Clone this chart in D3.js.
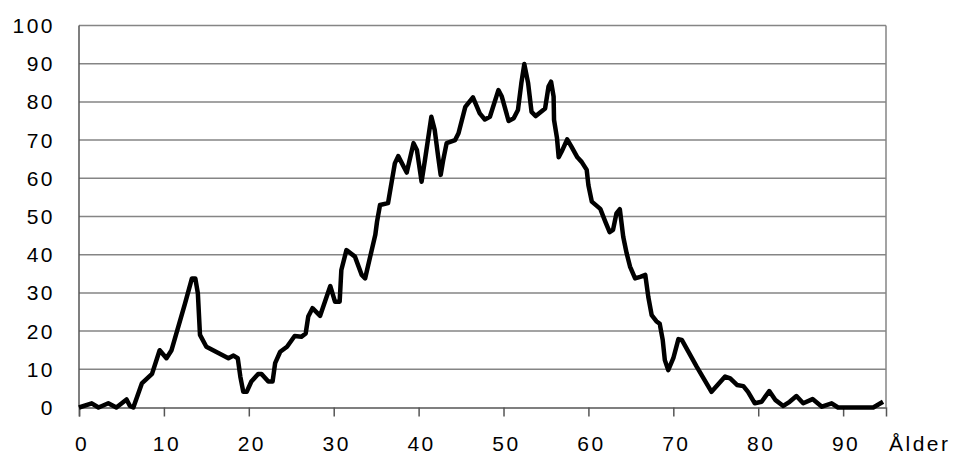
<!DOCTYPE html>
<html>
<head>
<meta charset="utf-8">
<script src="https://cdn.jsdelivr.net/npm/d3@7"></script>
<style>
  body { margin: 0; background: #fff; }
  svg text { font-family: "Liberation Sans", Arial, sans-serif; font-size: 21px; letter-spacing: 2.5px; fill: #000; }
</style>
</head>
<body>
<div class="chart"></div>
<script>
// ages (x) and counts (y)
var ages = [0, 1.5, 2.3, 3.45, 4.4, 5.6, 6.0, 6.4, 7.4, 8.6, 9.5, 10.3, 10.9, 12.5, 13.3, 13.7, 14.0, 14.25, 15.0,
  17.6, 18.2, 18.7, 19.0, 19.35, 19.75, 20.3, 21.1, 21.5, 22.3, 22.8, 23.1, 23.7, 24.5, 25.4, 26.2, 26.7, 27.0,
  27.5, 28.4, 29.6, 30.15, 30.7, 30.9, 31.5, 32.5, 33.3, 33.7, 34.3, 34.9, 35.1, 35.45, 36.4, 36.6, 37.2, 37.6,
  38.6, 39.4, 39.8, 40.35, 40.75, 41.5, 41.9, 42.3, 42.6, 42.9, 43.3, 44.3, 44.7, 45.5, 46.4, 47.2, 47.8, 48.4,
  49.4, 49.8, 50.6, 51.2, 51.7, 52.1, 52.45, 52.9, 53.3, 53.8, 54.9, 55.3, 55.6, 55.9, 55.95, 56.3, 56.5, 56.85,
  57.5, 58.0, 58.7, 59.2, 59.8, 60.0, 60.4, 61.4, 62.0, 62.5, 62.9, 63.3, 63.7, 64.1, 64.5, 64.9, 65.5, 66.1,
  66.7, 67.05, 67.45, 68.0, 68.4, 68.75, 69.0, 69.4, 70.0, 70.6, 71.0, 72.75, 74.5, 76.1, 76.7, 77.5, 78.25,
  78.8, 79.6, 80.4, 81.3, 82.0, 82.95, 83.7, 84.5, 85.3, 86.4, 87.5, 88.65, 89.4, 93.55, 94.7];
var counts = [0, 1.1, 0, 1.1, 0, 2.1, 0.4, 0, 6.3, 8.8, 15, 12.9, 15, 27.3, 33.8, 33.8, 29.9, 19, 15.9,
  12.9, 13.6, 12.9, 8.1, 4.1, 4.1, 6.8, 8.8, 8.8, 6.8, 6.8, 11.6, 14.6, 15.9, 18.7, 18.5, 19.4, 23.8,
  26, 24, 31.8, 27.7, 27.7, 36, 41.2, 39.5, 34.7, 33.8, 39.5, 45.2, 48.6, 53, 53.5, 56.1, 63.9, 65.8,
  61.5, 69.2, 67.4, 59.1, 64.8, 76.1, 72.6, 65.7, 60.9, 64.8, 69.2, 70, 71.8, 78.7, 81.2, 77, 75.4, 76.1,
  83.1, 81.4, 75, 75.7, 77.9, 84.9, 89.9, 84.9, 77.4, 76.3, 78.3, 84, 85.3, 81.4, 75.3, 70.5, 65.5, 67,
  70.2, 68.3, 65.5, 64.3, 62.2, 58.2, 53.9, 52, 48.6, 45.9, 46.5, 50.8, 51.9, 44.7, 40.4, 36.9, 33.8, 34.2,
  34.7, 29, 24.2, 22.6, 21.9, 17.7, 12.4, 9.8, 12.9, 17.9, 17.7, 10.7, 4.1, 8.1, 7.6, 5.9, 5.6,
  4.1, 1.1, 1.5, 4.3, 2, 0.4, 1.5, 3, 1.1, 2.2, 0.2, 1.1, 0, 0, 1.5];
var xTicks = [0, 10, 20, 30, 40, 50, 60, 70, 80, 90];
var yTicks = [0, 10, 20, 30, 40, 50, 60, 70, 80, 90, 100];
var xLabel = "Ålder";

var data = ages.map(function(a, i) { return { age: a, n: counts[i] }; });

var svg = d3.select(".chart").append("svg")
  .attr("width", 954)
  .attr("height", 454);

var x = d3.scaleLinear().domain([0, 95.05]).range([79, 886]);
var y = d3.scaleLinear().domain([0, 100]).range([407.5, 25.5]);

// gridlines
svg.append("g").selectAll("line")
  .data(yTicks.slice(1))
  .enter().append("line")
  .attr("x1", 79).attr("x2", 886)
  .attr("y1", function(d) { return y(d); })
  .attr("y2", function(d) { return y(d); })
  .attr("stroke", "#858585")
  .attr("stroke-width", 1.5);

// right border
svg.append("line")
  .attr("x1", 886).attr("x2", 886)
  .attr("y1", y(100)).attr("y2", y(0))
  .attr("stroke", "#858585").attr("stroke-width", 1.5);

// y axis
svg.append("line")
  .attr("x1", 79).attr("x2", 79)
  .attr("y1", y(100)).attr("y2", y(0))
  .attr("stroke", "#555").attr("stroke-width", 1.5);

svg.append("g").selectAll("text")
  .data(yTicks)
  .enter().append("text")
  .attr("x", 55)
  .attr("y", function(d) { return y(d); })
  .attr("dy", "0.36em")
  .attr("text-anchor", "end")
  .text(function(d) { return d; });

// x axis
var xAxis = d3.axisBottom(x).tickValues(xTicks).tickSize(9).tickFormat("");
var gx = svg.append("g")
  .attr("transform", "translate(0," + y(0) + ")")
  .call(xAxis);
gx.select(".domain").attr("stroke", "#555").attr("stroke-width", 1.5);
gx.selectAll(".tick line").attr("stroke", "#555").attr("stroke-width", 1.5);

svg.append("g").selectAll("text")
  .data(xTicks)
  .enter().append("text")
  .attr("x", function(d) { return x(d) + 3; })
  .attr("y", 451)
  .attr("text-anchor", "middle")
  .text(function(d) { return d; });

svg.append("text")
  .attr("x", 889)
  .attr("y", 451)
  .text(xLabel);

// series line
var line = d3.line()
  .x(function(d) { return x(d.age); })
  .y(function(d) { return y(d.n); });

svg.append("path")
  .datum(data)
  .attr("d", line)
  .attr("fill", "none")
  .attr("stroke", "#000")
  .attr("stroke-width", 4.5)
  .attr("stroke-linejoin", "round");
</script>
</body>
</html>
